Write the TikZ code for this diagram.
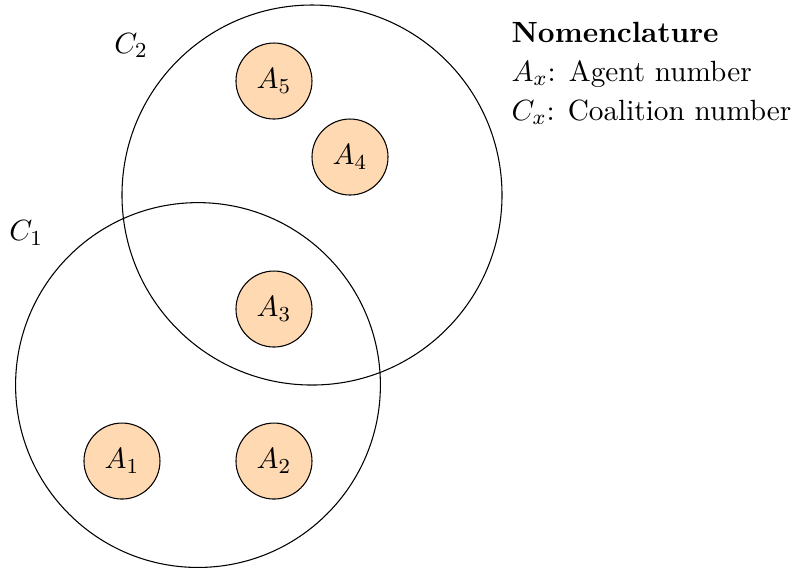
\documentclass[tikz,border=0pt,11pt]{standalone}
\usepackage{tikz}
\usetikzlibrary{positioning}

\begin{document}
\begin{tikzpicture}[
			agent/.style={circle, draw, fill=orange!30, minimum size=1cm, inner sep=0pt},
			coal/.style={draw, circle}
		]
			\useasboundingbox (-1.605,-1.421) rectangle (8.855,6.066);
			% coalitions
			\draw[coal] (1,1) circle (2.4);
			\draw[coal] (2.5,3.5) circle (2.5);
			\node (c1) at (-1.26,3.0) {$C_1$};
			\node (c2) at (0.12,5.47) {$C_2$};
			% agents
			\node[agent] (a1) at (0,0) {$A_1$};
			\node[agent] (a2) at (2,0) {$A_2$};
			\node[agent] (a3) at (2,2) {$A_3$};
			\node[agent] (a4) at (3,4) {$A_4$};
			\node[agent] (a5) at (2,5) {$A_5$};
			% legend
			\node[anchor=north west, inner sep=0pt, align=left] (nom) at (5.12,5.78)
				{\textbf{Nomenclature}\\[1pt] $A_x$: Agent number\\[1pt] $C_x$: Coalition number};
		\end{tikzpicture}
\end{document}
